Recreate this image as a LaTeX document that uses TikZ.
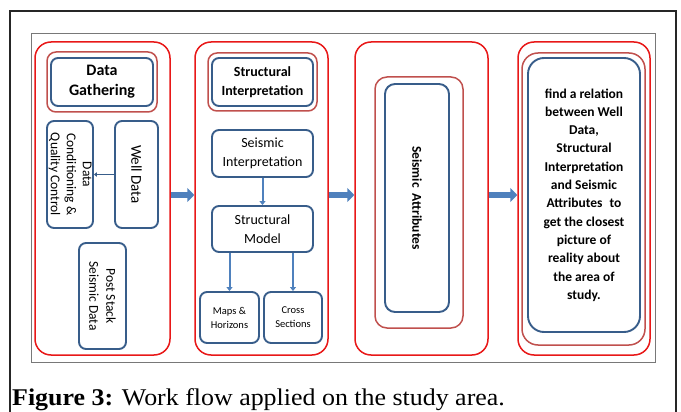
\documentclass[tikz,border=0pt]{standalone}
\usepackage{fontspec}
\setmainfont{Carlito}
\newfontfamily\capfont[FakeStretch=1.08]{Liberation Serif}
\usetikzlibrary{arrows.meta}
\definecolor{pred}{RGB}{232,24,24}
\definecolor{pbrown}{RGB}{192,80,77}
\definecolor{pblue}{RGB}{56,93,138}
\definecolor{parrow}{RGB}{79,129,189}
\definecolor{pgray}{RGB}{120,120,120}
\begin{document}
\begin{tikzpicture}[x=1pt,y=-1pt,
  panel/.style={draw=pred, line width=1.5pt, rounded corners=16pt, inner sep=0pt},
  ringbox/.style={draw=pbrown, line width=1.5pt, rounded corners=9pt, inner sep=0pt},
  bbox/.style={draw=pblue, line width=1.9pt, rounded corners=7pt, inner sep=0pt, align=center, text=black},
  bigarrow/.style={draw=parrow, line width=6pt, -{Triangle[width=14pt,length=7pt]}},
  smallarrow/.style={draw=parrow, line width=2pt, -{Triangle[width=6pt,length=4pt]}},
  thinarrow/.style={draw=pblue, line width=1.8pt, -{Triangle[width=4.5pt,length=3pt]}}
]
\useasboundingbox (0,0) rectangle (681,412);
% frames
\draw[line width=1.1pt, black!85] (10,412) -- (10,11) -- (676,11) -- (676,412);
\draw[line width=0.9pt, pgray] (31,33) rectangle (655,362);

% panels
\node[panel, minimum width=135pt, minimum height=313pt] (p1) at (102.5,198.5) {};
\node[panel, minimum width=133pt, minimum height=313pt] (p2) at (261.5,198.5) {};
\node[panel, minimum width=133pt, minimum height=313pt] (p3) at (421.5,198.5) {};
\node[panel, minimum width=132pt, minimum height=313pt] (p4) at (584,198.5) {};

% panel 1
\node[ringbox, minimum width=110pt, minimum height=60pt] (dgr) at (102,82) {};
\node[bbox, minimum width=102pt, minimum height=48pt, font=\bfseries\fontsize{16}{20}\selectfont] (dg) at (102,82) {Data\\Gathering};
\node[bbox, rotate=-90, minimum width=107pt, minimum height=46pt, font=\fontsize{13.5}{16}\selectfont] (dc) at (70,174.5) {Data\\Conditioning \&\\Quality Control};
\node[bbox, rotate=-90, minimum width=107pt, minimum height=43pt, font=\fontsize{15}{18}\selectfont] (wd) at (136.5,174.5) {Well Data};
\node[bbox, rotate=-90, minimum width=106pt, minimum height=47pt, font=\fontsize{13.5}{17}\selectfont] (ps) at (102.5,296) {Post Stack\\Seismic Data};
\draw[thinarrow] (wd.south) -- (dc.north);

% panel 2
\node[ringbox, minimum width=109pt, minimum height=58pt] (sir) at (262.5,82) {};
\node[bbox, minimum width=101pt, minimum height=48pt, font=\bfseries\fontsize{14}{19}\selectfont] (si) at (262.5,82) {Structural\\Interpretation};
\node[bbox, minimum width=101pt, minimum height=47pt, font=\fontsize{14}{18.5}\selectfont] (seis) at (262.5,153.5) {Seismic\\Interpretation};
\node[bbox, minimum width=101pt, minimum height=46pt, font=\fontsize{14}{18.5}\selectfont] (sm) at (262.5,229) {Structural\\Model};
\node[bbox, minimum width=59pt, minimum height=51pt, font=\fontsize{10.5}{14}\selectfont] (maps) at (229.5,317.5) {Maps \&\\Horizons};
\node[bbox, minimum width=58pt, minimum height=51pt, font=\fontsize{10.5}{14}\selectfont] (cross) at (293,317.5) {Cross\\Sections};
\draw[smallarrow] (seis.south) -- (sm.north);
\draw[smallarrow] (sm.south -| maps.north) -- (maps.north);
\draw[smallarrow] (sm.south -| cross.north) -- (cross.north);

% panel 3
\node[ringbox, rounded corners=12pt, minimum width=88pt, minimum height=251pt] (sar) at (419,202.5) {};
\node[bbox, rounded corners=10pt, rotate=-90, minimum width=228pt, minimum height=64pt, font=\bfseries\fontsize{13.5}{16}\selectfont] (sa) at (417,198) {Seismic\hspace{0.45em}Attributes};

% panel 4
\node[ringbox, rounded corners=16pt, minimum width=123pt, minimum height=292pt] (rr) at (583.5,199) {};
\node[bbox, rounded corners=16pt, minimum width=112pt, minimum height=274pt, font=\bfseries\fontsize{13.5}{18.3}\selectfont] (res) at (584,195) {find a relation\\between Well\\Data,\\Structural\\Interpretation\\and Seismic\\Attributes\hspace{0.3em} to\\get the closest\\picture of\\reality about\\the area of\\study.};

% big arrows
\draw[bigarrow] ([yshift=3.5pt]p1.east) -- ([yshift=3.5pt]p2.west);
\draw[bigarrow] ([yshift=3.5pt]p2.east) -- ([yshift=3.5pt]p3.west);
\draw[bigarrow] ([yshift=3.5pt]p3.east) -- ([yshift=3.5pt]p4.west);

% caption
\node[anchor=base west, inner sep=0pt, font=\capfont\fontsize{24}{24}\selectfont] (cap) at (12,405) {\textbf{Figure 3:} Work flow applied on the study area.};
\end{tikzpicture}
\end{document}
